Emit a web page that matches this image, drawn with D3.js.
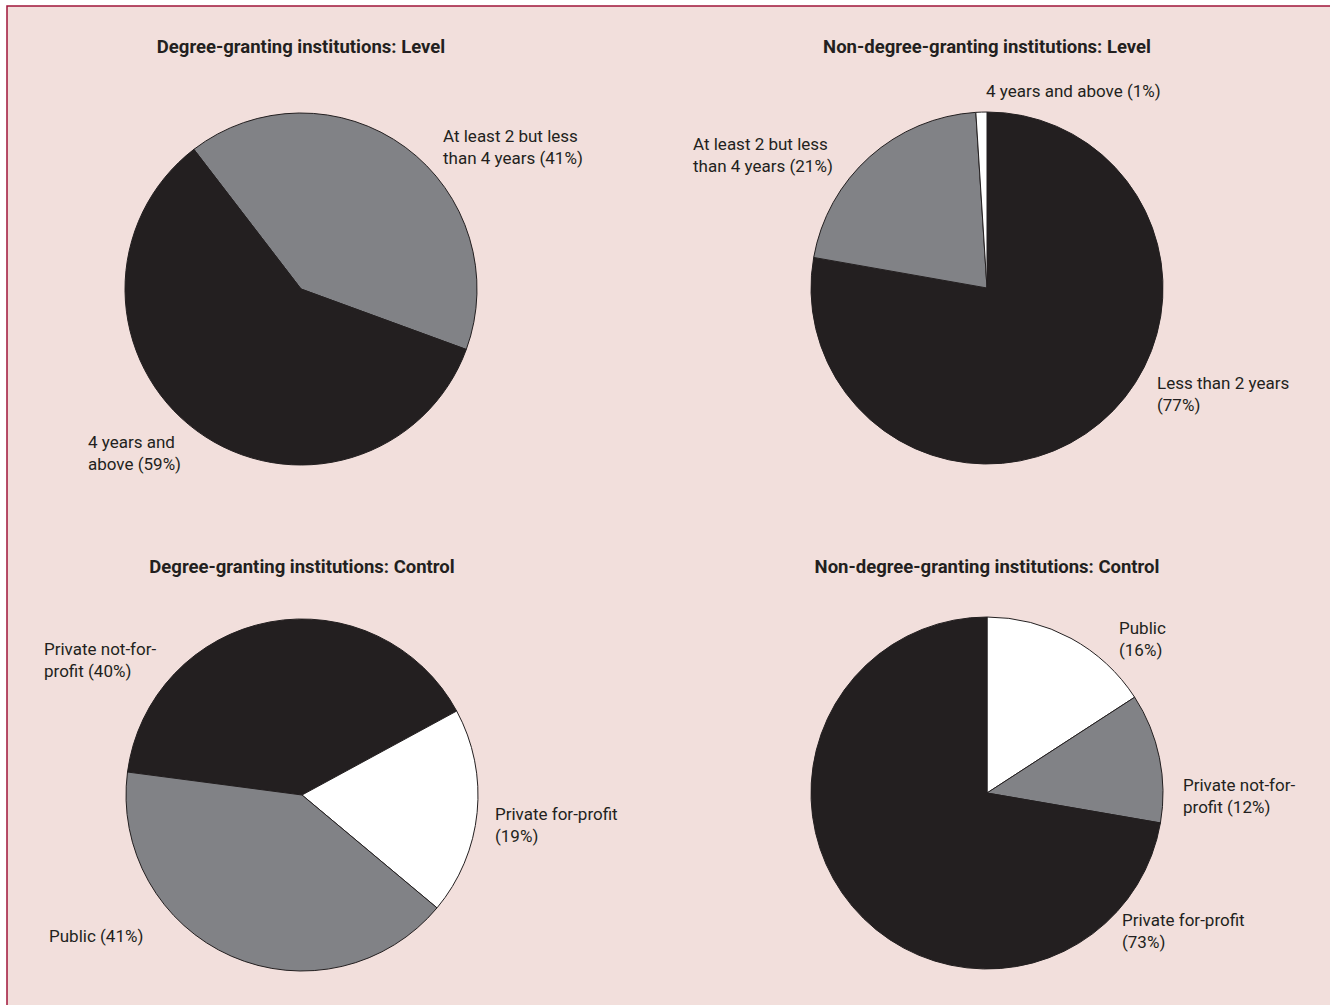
<!DOCTYPE html>
<html>
<head>
<meta charset="utf-8">
<script src="https://cdn.jsdelivr.net/npm/d3@7"></script>
<style>
  body { margin: 0; background: #fff; overflow: hidden; }
  svg { display: block; }
  text { font-family: Roboto, "Noto Sans", sans-serif; fill: #231f20; }
  .title { font-weight: bold; font-size: 18.5px; }
  .label { font-size: 17px; }
</style>
</head>
<body>
<script>
const w = 1330;
const h = 1005;

// data
const degLevelCategories = ["At least 2 but less than 4 years", "4 years and above"];
const degLevelValues = [41, 59];
const degLevelLabels = [["At least 2 but less", "than 4 years (41%)"], ["4 years and", "above (59%)"]];

const nonDegLevelCategories = ["Less than 2 years", "At least 2 but less than 4 years", "4 years and above"];
const nonDegLevelValues = [77, 21, 1];
const nonDegLevelLabels = [["Less than 2 years", "(77%)"], ["At least 2 but less", "than 4 years (21%)"], ["4 years and above (1%)"]];

const degControlCategories = ["Private not-for-profit", "Private for-profit", "Public"];
const degControlValues = [40, 19, 41];
const degControlLabels = [["Private not-for-", "profit (40%)"], ["Private for-profit", "(19%)"], ["Public (41%)"]];

const nonDegControlCategories = ["Public", "Private not-for-profit", "Private for-profit"];
const nonDegControlValues = [16, 12, 73];
const nonDegControlLabels = [["Public", "(16%)"], ["Private not-for-", "profit (12%)"], ["Private for-profit", "(73%)"]];

const black = "#231f20";
const gray = "#818286";
const white = "#ffffff";

// layout: pie center, start angle (deg), slice colours, title offset, label offsets from center
const radius = 176;
const charts = [
  {
    title: "Degree-granting institutions: Level",
    cats: degLevelCategories, values: degLevelValues, labels: degLevelLabels,
    cx: 301, cy: 289, start: -37.5, colors: [gray, black], titleY: -236,
    labelPos: [[142, -147], [-213, 159]]
  },
  {
    title: "Non-degree-granting institutions: Level",
    cats: nonDegLevelCategories, values: nonDegLevelValues, labels: nonDegLevelLabels,
    cx: 987, cy: 288, start: 0, colors: [black, gray, white], titleY: -235,
    labelPos: [[170, 101], [-294, -138], [-1, -191]]
  },
  {
    title: "Degree-granting institutions: Control",
    cats: degControlCategories, values: degControlValues, labels: degControlLabels,
    cx: 302, cy: 795, start: -82.5, colors: [black, white, gray], titleY: -222,
    labelPos: [[-258, -140], [193, 25], [-253, 147]]
  },
  {
    title: "Non-degree-granting institutions: Control",
    cats: nonDegControlCategories, values: nonDegControlValues, labels: nonDegControlLabels,
    cx: 987, cy: 793, start: 0, colors: [white, gray, black], titleY: -220,
    labelPos: [[132, -159], [196, -2], [135, 133]]
  }
];

const svg = d3.select("body").append("svg").attr("width", w).attr("height", h);

// panel background with the red frame (right and bottom run off the page)
svg.append("rect")
  .attr("x", 7).attr("y", 6)
  .attr("width", w + 20).attr("height", h + 20)
  .attr("fill", "#f2dfdc")
  .attr("stroke", "#a0163a")
  .attr("stroke-width", 1.5);

const arc = d3.arc().innerRadius(0).outerRadius(radius);
const lineHeight = 21.5;

charts.forEach(function (c) {
  const g = svg.append("g").attr("transform", "translate(" + c.cx + "," + c.cy + ")");

  const pie = d3.pie()
    .sort(null)
    .value(function (d) { return d; })
    .startAngle(c.start * Math.PI / 180)
    .endAngle(c.start * Math.PI / 180 + 2 * Math.PI);

  const color = d3.scaleOrdinal().domain(c.cats).range(c.colors);

  g.selectAll(".slice")
    .data(pie(c.values))
    .enter()
    .append("path")
    .attr("class", "slice")
    .attr("d", arc)
    .attr("fill", function (d, i) { return color(c.cats[i]); })
    .attr("stroke", black)
    .attr("stroke-width", 1)
    .attr("stroke-linejoin", "round");

  g.append("text")
    .attr("class", "title")
    .attr("x", 0)
    .attr("y", c.titleY)
    .attr("text-anchor", "middle")
    .text(c.title);

  c.labels.forEach(function (lines, i) {
    const t = g.append("text")
      .attr("class", "label")
      .attr("x", c.labelPos[i][0])
      .attr("y", c.labelPos[i][1]);
    lines.forEach(function (line, j) {
      t.append("tspan")
        .attr("x", c.labelPos[i][0])
        .attr("dy", j === 0 ? 0 : lineHeight)
        .text(line);
    });
  });
});
</script>
</body>
</html>
